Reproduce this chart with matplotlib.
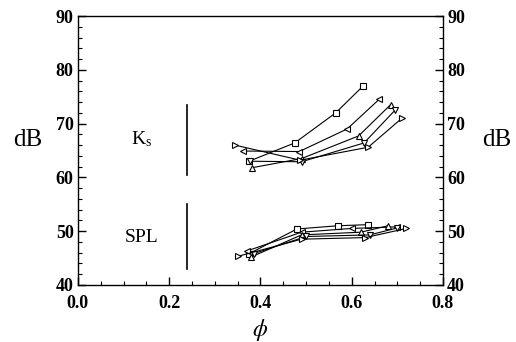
import matplotlib
matplotlib.use("Agg")
import matplotlib.pyplot as plt
from matplotlib.ticker import MultipleLocator, FormatStrFormatter

plt.rcParams['font.family'] = 'Liberation Serif'
plt.rcParams['mathtext.fontset'] = 'stix'

# Ks group (phi, dB) per marker
ks_sq_x = [0.375, 0.475, 0.565, 0.625]
ks_sq_y = [63.0, 66.4, 72.0, 77.0]
ks_lt_x = [0.362, 0.485, 0.59, 0.66]
ks_lt_y = [64.9, 64.8, 69.0, 74.5]
ks_up_x = [0.382, 0.49, 0.615, 0.685]
ks_up_y = [61.8, 63.5, 67.7, 73.5]
ks_dn_x = [0.377, 0.49, 0.627, 0.695]
ks_dn_y = [63.0, 62.9, 66.4, 72.5]
ks_rt_x = [0.344, 0.487, 0.636, 0.71]
ks_rt_y = [66.0, 63.2, 65.6, 71.0]

# SPL group
spl_sq_x = [0.375, 0.48, 0.57, 0.635]
spl_sq_y = [45.8, 50.4, 51.0, 51.2]
spl_lt_x = [0.37, 0.49, 0.60, 0.70]
spl_lt_y = [46.3, 49.8, 50.5, 50.8]
spl_up_x = [0.38, 0.49, 0.62, 0.68]
spl_up_y = [45.2, 49.3, 49.8, 51.0]
spl_dn_x = [0.385, 0.50, 0.64, 0.70]
spl_dn_y = [45.8, 49.0, 49.3, 50.6]
spl_rt_x = [0.35, 0.49, 0.63, 0.72]
spl_rt_y = [45.3, 48.5, 48.8, 50.5]

fig = plt.figure(figsize=(5.16, 3.42), dpi=100)
ax = fig.add_axes([0.151, 0.167, 0.7075, 0.786])

series = [
    (ks_sq_x, ks_sq_y, 's'), (ks_lt_x, ks_lt_y, '<'), (ks_up_x, ks_up_y, '^'),
    (ks_dn_x, ks_dn_y, 'v'), (ks_rt_x, ks_rt_y, '>'),
    (spl_sq_x, spl_sq_y, 's'), (spl_lt_x, spl_lt_y, '<'), (spl_up_x, spl_up_y, '^'),
    (spl_dn_x, spl_dn_y, 'v'), (spl_rt_x, spl_rt_y, '>'),
]
for x, y, m in series:
    ax.plot(x, y, color='black', lw=0.8, marker=m, ms=5, mfc='white', mec='black', mew=0.8)

# bracket lines next to the group labels
ax.plot([0.24, 0.24], [60.5, 73.5], color='black', lw=1.2)
ax.plot([0.24, 0.24], [43.0, 55.0], color='black', lw=1.2)
ax.text(0.14, 67.2, r'K$_\mathregular{s}$', fontsize=14, ha='center', va='center')
ax.text(0.14, 48.8, 'SPL', fontsize=14, ha='center', va='center')

ax.set_xlim(0.0, 0.8)
ax.set_ylim(40, 90)
ax.xaxis.set_major_locator(MultipleLocator(0.2))
ax.xaxis.set_minor_locator(MultipleLocator(0.05))
ax.yaxis.set_major_locator(MultipleLocator(10))
ax.yaxis.set_minor_locator(MultipleLocator(2))
ax.xaxis.set_major_formatter(FormatStrFormatter('%.1f'))
ax.tick_params(which='both', direction='in', top=False, right=True, labelright=True,
               labelsize=13)
ax.tick_params(axis='x', pad=7)
ax.tick_params(axis='y', pad=3)
ax.tick_params(which='major', length=6, width=1)
ax.tick_params(which='minor', length=3, width=0.8)
for lab in ax.get_xticklabels() + ax.get_yticklabels():
    lab.set_fontweight('bold')
for t in ax.yaxis.get_major_ticks():
    t.label2.set_fontweight('bold')
for s in ax.spines.values():
    s.set_linewidth(1.0)

ax.set_xlabel(r'$\phi$', fontsize=17, labelpad=4)
fig.text(0.053, 0.59, 'dB', fontsize=18, ha='center', va='center')
fig.text(0.963, 0.59, 'dB', fontsize=18, ha='center', va='center')

fig.savefig('out.png', dpi=100)
